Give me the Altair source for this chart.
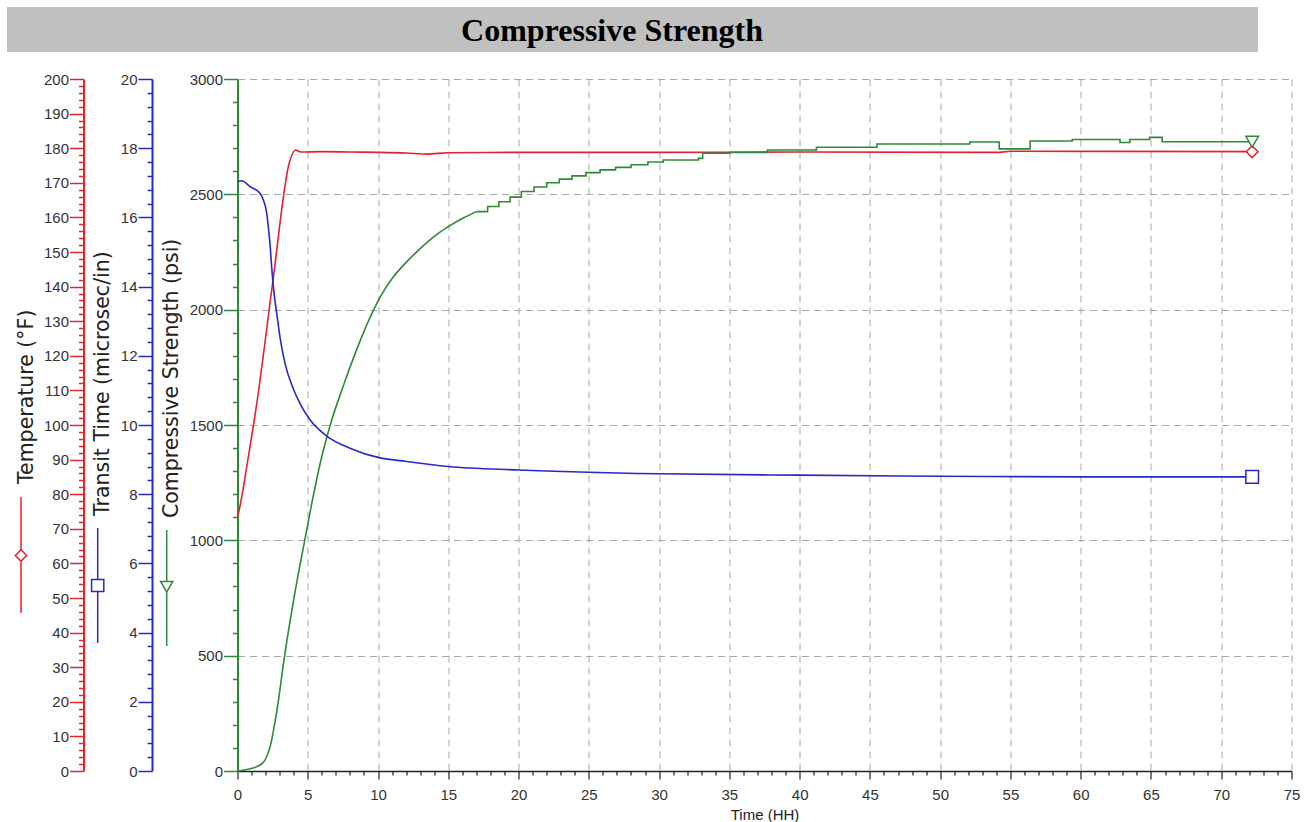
import altair as alt
import pandas as pd

# ---------------- data ----------------
# Temperature (°F) vs time (h)
temp_t = [0, 0.15, 0.7, 1.4, 2.5, 3.7, 4.13, 4.5, 6, 8, 10, 12, 13.5, 15, 20, 30, 40, 54, 55, 72.2]
temp_v = [73.4, 76, 89, 107, 141, 176, 179.5, 178.9, 179, 178.9, 178.8, 178.6, 178.3, 178.7,
          178.8, 178.8, 178.9, 178.8, 179.1, 179.0]

# Transit time (microsec/in)
transit_t = [0, 0.3, 0.89, 1.6, 1.84, 2.08, 2.19, 2.31, 2.43, 2.6, 2.79, 3.02, 3.38, 3.97, 4.45,
             5.16, 6.35, 8.0, 10.14, 11.56, 15, 20, 30, 40, 50, 60, 72.2]
transit_v = [17.03, 17.06, 16.89, 16.70, 16.50, 16.12, 15.73, 15.25, 14.57, 13.81, 13.23, 12.55,
             11.78, 11.05, 10.62, 10.15, 9.68, 9.33, 9.05, 8.97, 8.80, 8.70, 8.59, 8.55, 8.52, 8.50, 8.50]

# Compressive strength (psi) – smooth early part
cs_early_t = [0, 0.9, 1.5, 1.75, 2.0, 2.2, 2.4, 2.55, 2.9, 3.28, 3.74, 4.09, 4.45, 4.8, 5.4, 5.87,
              6.6, 7.5, 8.5, 9.5, 10.2, 11.0, 12.0, 13.0, 14.0, 15.0, 16.0, 17.0]
cs_early_v = [0, 10, 22, 32, 52, 82, 125, 172, 300, 470, 650, 775, 895, 1005, 1195, 1330,
              1500, 1665, 1830, 1975, 2060, 2135, 2205, 2265, 2318, 2360, 2395, 2425]
# Compressive strength (psi) – stepped later part
cs_late_t = [17, 17.8, 18.6, 19.4, 20.2, 21.1, 22.0, 22.9, 23.8, 24.8, 25.8, 26.9, 28.0, 29.2,
             30.3, 32.8, 33.1, 35.05, 37.7, 41.2, 45.5, 52.1, 54.2, 56.4, 59.4, 62.8, 63.5,
             64.9, 65.8, 72.2]
cs_late_v = [2425, 2447, 2468, 2488, 2512, 2532, 2550, 2566, 2580, 2594, 2606, 2617, 2628, 2640,
             2649, 2656, 2678, 2682, 2692, 2704, 2718, 2727, 2697, 2731, 2738, 2725, 2738,
             2747, 2728, 2728]

x_ticks = list(range(0, 76))
temp_ticks = list(range(0, 201, 2))
transit_ticks = [round(i * 0.4, 1) for i in range(51)]
cs_ticks = list(range(0, 3001, 100))

RED = "#e3222a"
BLUE = "#2828c8"
GREEN = "#2f8a38"
LABEL = "#333333"
FONT = "Liberation Sans"
FS = 15

temp_df = pd.DataFrame({"t": temp_t, "v": temp_v})
transit_df = pd.DataFrame({"t": transit_t, "v": transit_v})
cs_early_df = pd.DataFrame({"t": cs_early_t, "v": cs_early_v})
cs_late_df = pd.DataFrame({"t": cs_late_t, "v": cs_late_v})
one = pd.DataFrame({"a": [0]})


def cond(test, a, b):
    return {"condition": {"test": test, "value": a}, "value": b}


X = alt.X(
    "t:Q",
    scale=alt.Scale(domain=[0, 75], nice=False, zero=False),
    axis=alt.Axis(
        values=x_ticks, tickCount=500, title="Time (HH)", format="d",
        labelExpr="datum.value % 5 === 0 ? datum.label : ''",
        tickSize=cond("datum.value % 5 === 0", 8, 4),
        tickColor="#222", tickWidth=1.2, domainColor="#222", domainWidth=1.5,
        grid=True, gridDash=[7, 5], gridColor="#a8a8a8", gridWidth=1,
        gridOpacity=cond("datum.value % 5 === 0 && datum.value > 0", 1, 0),
        labelFont=FONT, labelFontSize=FS, labelColor=LABEL, labelPadding=8,
        labelOverlap=False, labelFlush=False,
        titleFont=FONT, titleFontSize=FS, titleFontWeight="normal", titleColor="#222",
        titlePadding=5,
    ),
)


def yaxis(color, values, major_test, offset, grid=False):
    kw = dict(
        orient="left", offset=offset, values=values, tickCount=500, title=None,
        labelExpr=f"{major_test} ? format(datum.value, 'd') : ''",
        tickSize=cond(major_test, 14, 5), tickColor=color, tickWidth=1.5,
        domainColor=color, domainWidth=2,
        labelFont=FONT, labelFontSize=FS, labelColor=LABEL, labelPadding=1,
        labelOverlap=False, labelFlush=False,
        grid=grid,
    )
    if grid:
        kw.update(gridDash=[7, 5], gridColor="#a8a8a8", gridWidth=1,
                  gridOpacity=cond(major_test + " && datum.value > 0", 1, 0))
    return alt.Axis(**kw)


Yt = alt.Y("v:Q", scale=alt.Scale(domain=[0, 200], nice=False, zero=False),
           axis=yaxis(RED, temp_ticks, "datum.value % 10 === 0", 154))
Ytr = alt.Y("v:Q", scale=alt.Scale(domain=[0, 20], nice=False, zero=False),
            axis=yaxis(BLUE, transit_ticks, "abs(datum.value / 2 - round(datum.value / 2)) < 0.001", 85.5))
Ycs = alt.Y("v:Q", scale=alt.Scale(domain=[0, 3000], nice=False, zero=False),
            axis=yaxis(GREEN, cs_ticks, "datum.value % 500 === 0", 0, grid=True))

temp_layer = alt.layer(
    alt.Chart(temp_df).mark_line(color=RED, strokeWidth=1.6, interpolate="monotone").encode(x=X, y=Yt),
    alt.Chart(temp_df.tail(1)).mark_point(shape="diamond", size=140, fill="white", stroke=RED,
                                          strokeWidth=1.5, opacity=1, filled=True).encode(x=X, y=Yt),
)

cs_layer = alt.layer(
    alt.Chart(cs_early_df).mark_line(color=GREEN, strokeWidth=1.6, interpolate="monotone").encode(x=X, y=Ycs),
    alt.Chart(cs_late_df).mark_line(color=GREEN, strokeWidth=1.6, interpolate="step-after").encode(x=X, y=Ycs),
    alt.Chart(cs_late_df.tail(1)).mark_point(shape="triangle-down", size=160, fill="white", stroke=GREEN,
                                             strokeWidth=1.5, opacity=1, filled=True).encode(x=X, y=Ycs),
)

transit_layer = alt.layer(
    alt.Chart(transit_df).mark_line(color=BLUE, strokeWidth=1.6, interpolate="monotone").encode(x=X, y=Ytr),
    alt.Chart(transit_df.tail(1)).mark_point(shape="square", size=160, fill="white", stroke=BLUE,
                                             strokeWidth=1.5, opacity=1, filled=True).encode(x=X, y=Ytr),
)

# ---- decorations: title band, rotated axis titles with series symbols ----
band = alt.Chart(one).mark_rect(color="#c0c0c0").encode(
    x=alt.value(-230.5), x2=alt.value(1020.5), y=alt.value(-72), y2=alt.value(-27))
title = alt.Chart(one).mark_text(
    text="Compressive Strength", font="Liberation Serif", fontSize=32, fontWeight="bold",
    align="center", baseline="alphabetic", color="#000").encode(x=alt.value(374.5), y=alt.value(-38))

SIDE_FONT = "DejaVu Sans"
SIDE_FS = 20.5


def side_title(txt, x, y):
    return alt.Chart(one).mark_text(
        text=txt, font=SIDE_FONT, fontSize=SIDE_FS, angle=270, align="left", baseline="alphabetic",
        color="#222").encode(x=alt.value(x), y=alt.value(y))


def side_symbol(color, shape, x, y1, y2, ys, size):
    line = alt.Chart(one).mark_rule(color=color, strokeWidth=1.5).encode(
        x=alt.value(x), y=alt.value(y1), y2=alt.value(y2))
    sym = alt.Chart(one).mark_point(shape=shape, size=size, fill="white", stroke=color,
                                    strokeWidth=1.5, opacity=1, filled=True).encode(
        x=alt.value(x), y=alt.value(ys))
    return [line, sym]


decos = [
    side_title("Temperature (°F)", 33 - 237.5, 484 - 79),
    side_title("Transit Time (microsec/in)", 109 - 237.5, 516 - 79),
    side_title("Compressive Strength (psi)", 178 - 237.5, 518 - 79),
] + side_symbol(RED, "diamond", -216.5, 418, 534, 476.5, 130) \
  + side_symbol(BLUE, "square", -139.8, 449, 564, 506.5, 150) \
  + side_symbol(GREEN, "triangle-down", -70.8, 451, 567, 507.7, 150)

chart = alt.layer(
    band, title, temp_layer, cs_layer, transit_layer, *decos
).resolve_scale(y="independent").properties(
    width=1054, height=692,
    autosize=alt.AutoSizeParams(type="none"),
    padding={"left": 237.5, "top": 79, "right": 19.5, "bottom": 51},
    background="white",
).configure_view(stroke=None)

chart.save("out.html", embed_options={"renderer": "svg", "actions": False})
